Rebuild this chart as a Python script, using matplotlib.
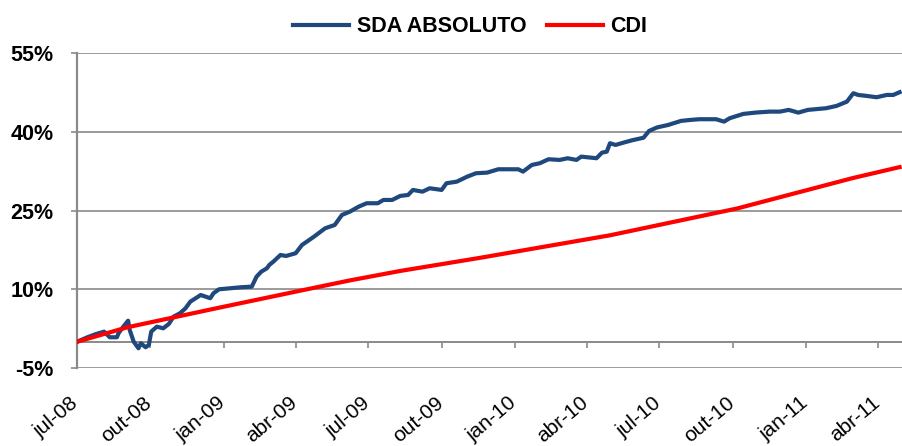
import matplotlib
matplotlib.use('Agg')
import matplotlib.pyplot as plt
import matplotlib.transforms as mtransforms
from matplotlib.ticker import FuncFormatter
import pandas as pd

plt.rcParams['font.family'] = 'Liberation Sans'

# SDA ABSOLUTO - accumulated return (%)
sda_dates = ['2008-07-01', '2008-07-14', '2008-07-25', '2008-08-04', '2008-08-11', '2008-08-20',
             '2008-08-22', '2008-08-28', '2008-09-03', '2008-09-05', '2008-09-10', '2008-09-16',
             '2008-09-19', '2008-09-25', '2008-09-29', '2008-10-02', '2008-10-09', '2008-10-17',
             '2008-10-24', '2008-10-30', '2008-11-07', '2008-11-14', '2008-11-20', '2008-12-03',
             '2008-12-15', '2008-12-19', '2008-12-26', '2009-01-09', '2009-01-22', '2009-02-05',
             '2009-02-11', '2009-02-13', '2009-02-17', '2009-02-24', '2009-02-27', '2009-03-04',
             '2009-03-13', '2009-03-20', '2009-04-01', '2009-04-09', '2009-04-15', '2009-04-24',
             '2009-05-08', '2009-05-20', '2009-05-29', '2009-06-08', '2009-06-19', '2009-06-29',
             '2009-07-13', '2009-07-20', '2009-07-31', '2009-08-10', '2009-08-20', '2009-08-26',
             '2009-09-07', '2009-09-16', '2009-10-01', '2009-10-07', '2009-10-20', '2009-11-02',
             '2009-11-13', '2009-11-27', '2009-12-11', '2010-01-05', '2010-01-11', '2010-01-22',
             '2010-02-01', '2010-02-12', '2010-02-26', '2010-03-08', '2010-03-19', '2010-03-25',
             '2010-04-13', '2010-04-20', '2010-04-26', '2010-04-30', '2010-05-07', '2010-05-17',
             '2010-05-28', '2010-06-11', '2010-06-18', '2010-06-28', '2010-07-12', '2010-07-28',
             '2010-08-09', '2010-08-20', '2010-09-10', '2010-09-20', '2010-09-27', '2010-10-14',
             '2010-10-29', '2010-11-16', '2010-11-29', '2010-12-10', '2010-12-22', '2011-01-03',
             '2011-01-26', '2011-02-08', '2011-02-21', '2011-03-01', '2011-03-07', '2011-03-18',
             '2011-03-30', '2011-04-12', '2011-04-20', '2011-04-28']
sda_values = [0.0, 0.86, 1.49, 1.93, 0.86, 0.86,
              1.62, 2.88, 4.02, 2.25, 0.02, -1.24,
              -0.29, -1.05, -0.61, 1.93, 2.88, 2.57,
              3.39, 4.79, 5.43, 6.39, 7.65, 8.92,
              8.30, 9.25, 10.01, 10.20, 10.39, 10.51,
              12.41, 12.74, 13.37, 14.02, 14.65, 15.27,
              16.55, 16.36, 16.88, 18.46, 19.09, 20.04,
              21.64, 22.27, 24.18, 24.81, 25.76, 26.41,
              26.41, 27.04, 27.04, 27.80, 27.99, 28.95,
              28.62, 29.27, 28.95, 30.22, 30.53, 31.48,
              32.13, 32.25, 32.89, 32.89, 32.44, 33.71,
              34.04, 34.80, 34.67, 34.99, 34.67, 35.30,
              34.99, 36.06, 36.25, 37.85, 37.53, 37.97,
              38.43, 38.90, 40.20, 40.87, 41.34, 42.11,
              42.30, 42.43, 42.43, 41.97, 42.62, 43.44,
              43.69, 43.88, 43.88, 44.21, 43.69, 44.21,
              44.53, 44.97, 45.79, 47.39, 47.06, 46.87,
              46.62, 47.06, 47.06, 47.58]

# CDI accumulated (%)
cdi_dates = ['2008-07-01', '2008-09-02', '2008-12-23', '2009-04-15', '2009-06-08',
             '2009-08-10', '2009-11-18', '2010-04-30', '2010-10-06', '2011-02-28', '2011-04-28']
cdi_values = [0.0, 2.76, 6.4, 10.0, 11.7, 13.5, 16.0, 20.3, 25.4, 31.2, 33.3]

y_ticks = [-5, 10, 25, 40, 55]
x_tick_dates = ['2008-07-01', '2008-10-01', '2009-01-01', '2009-04-01', '2009-07-01', '2009-10-01',
                '2010-01-01', '2010-04-01', '2010-07-01', '2010-10-01', '2011-01-01', '2011-04-01']
x_tick_labels = ['jul-08', 'out-08', 'jan-09', 'abr-09', 'jul-09', 'out-09',
                 'jan-10', 'abr-10', 'jul-10', 'out-10', 'jan-11', 'abr-11']

grey = '#8a8a8a'

fig = plt.figure(figsize=(9.02, 4.46), dpi=100)
ax = fig.add_axes([0.0854, 0.1749, 0.9146, 0.7056])

ax.plot(pd.to_datetime(sda_dates), sda_values, color='#1F497D', lw=3.0,
        label='SDA ABSOLUTO', solid_joinstyle='round', zorder=3)
ax.plot(pd.to_datetime(cdi_dates), cdi_values, color='#FF0000', lw=3.0,
        label='CDI', zorder=4)

# category axis crosses at 0% (set before the tick labels, it resets them)
ax.spines['bottom'].set_position(('data', 0))
ax.spines['bottom'].set_color(grey)
ax.spines['bottom'].set_linewidth(1.4)
ax.spines['left'].set_color(grey)
ax.spines['left'].set_linewidth(1.6)
ax.spines['top'].set_visible(False)
ax.spines['right'].set_visible(False)

ax.set_xlim(pd.Timestamp('2008-07-01'), pd.Timestamp('2011-05-01'))
ax.set_ylim(-5, 55)

ax.set_yticks(y_ticks)
ax.yaxis.set_major_formatter(FuncFormatter(lambda v, p: '{:.0f}%'.format(v)))
ax.yaxis.grid(True, color=grey, lw=1.2)
ax.set_axisbelow(True)

ax.set_xticks(pd.to_datetime(x_tick_dates))
ax.tick_params(axis='x', direction='out', length=4, width=1.2, color=grey, pad=33)
ax.tick_params(axis='y', direction='out', length=4, width=1.2, color=grey, pad=13,
               labelsize=15.5)
ax.set_xticklabels(x_tick_labels, rotation=40, ha='right', va='top',
                   rotation_mode='anchor', fontsize=15)
# shift the rotated labels left so their right end sits on the tick
shift = mtransforms.ScaledTranslation(-7 / 100, 0, fig.dpi_scale_trans)
for lbl in ax.get_xticklabels():
    lbl.set_transform(lbl.get_transform() + shift)
for lbl in ax.get_yticklabels():
    lbl.set_fontweight('bold')

fig.legend(loc='center', bbox_to_anchor=(470 / 902, 1 - 27 / 446), ncol=2, frameon=False,
           prop={'weight': 'bold', 'size': 15.5}, handlelength=2.6, handletextpad=0.35,
           columnspacing=0.95)

fig.savefig('out.png', dpi=100)
